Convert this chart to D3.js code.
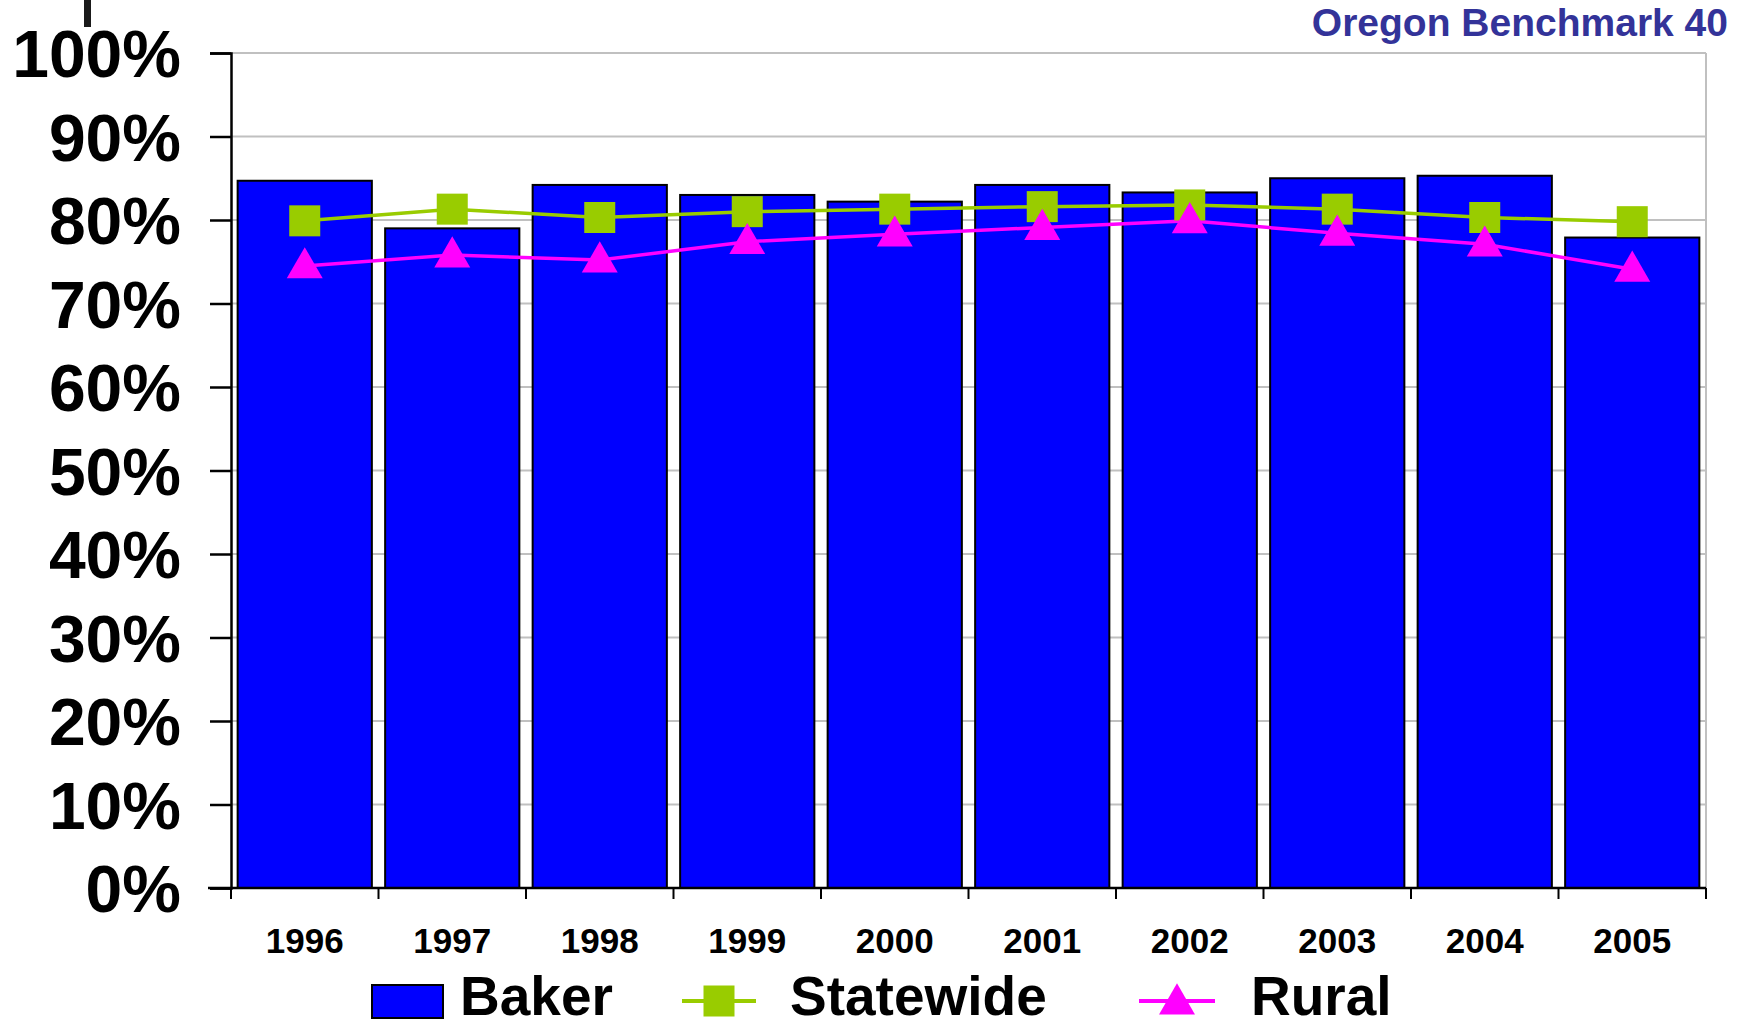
<!DOCTYPE html>
<html>
<head>
<meta charset="utf-8">
<script src="https://cdn.jsdelivr.net/npm/d3@7"></script>
<style>
  body { margin: 0; background: #fff; }
  svg text { font-family: "Liberation Sans", Arial, sans-serif; font-weight: bold; }
</style>
</head>
<body>
<svg id="chart" width="1748" height="1026"></svg>
<script>
var years = ["1996", "1997", "1998", "1999", "2000", "2001", "2002", "2003", "2004", "2005"];
var baker = [84.7, 79.0, 84.2, 83.0, 82.2, 84.2, 83.3, 85.0, 85.3, 77.9];
var statewide = [79.9, 81.3, 80.3, 81.0, 81.3, 81.6, 81.8, 81.3, 80.3, 79.8];
var rural = [74.5, 75.8, 75.2, 77.4, 78.3, 79.1, 79.9, 78.4, 77.1, 74.1];
var yTicks = [0, 10, 20, 30, 40, 50, 60, 70, 80, 90, 100];

var svg = d3.select("svg#chart");

var plotLeft = 231, plotRight = 1706, plotTop = 53, plotBottom = 888;

var x = d3.scaleBand()
  .domain(years)
  .range([plotLeft, plotRight])
  .paddingInner(0.09)
  .paddingOuter(0.045);

var y = d3.scaleLinear()
  .domain([0, 100])
  .range([plotBottom, plotTop]);

// gridlines
svg.selectAll("line.grid")
  .data(yTicks.slice(1))
  .enter().append("line")
  .attr("class", "grid")
  .attr("x1", plotLeft)
  .attr("x2", plotRight)
  .attr("y1", d => y(d))
  .attr("y2", d => y(d))
  .attr("stroke", "#c0c0c0")
  .attr("stroke-width", 2);

// right border
svg.append("line")
  .attr("x1", plotRight).attr("x2", plotRight)
  .attr("y1", plotTop).attr("y2", plotBottom)
  .attr("stroke", "#c0c0c0")
  .attr("stroke-width", 2);

// bars
svg.selectAll("rect.bar")
  .data(baker)
  .enter().append("rect")
  .attr("class", "bar")
  .attr("x", (d, i) => x(years[i]))
  .attr("y", d => y(d))
  .attr("width", x.bandwidth())
  .attr("height", d => plotBottom - y(d))
  .attr("fill", "#0000ff")
  .attr("stroke", "#000")
  .attr("stroke-width", 2);

// y axis
var yAxis = d3.axisLeft(y)
  .tickValues(yTicks)
  .tickSize(21)
  .tickPadding(29)
  .tickFormat(d => d + "%");

var gy = svg.append("g")
  .attr("transform", "translate(" + plotLeft + ",0)")
  .call(yAxis);
gy.select(".domain").attr("stroke", "#000").attr("stroke-width", 2.5);
gy.selectAll(".tick line").attr("stroke", "#000").attr("stroke-width", 2.5);
gy.selectAll(".tick text")
  .attr("font-size", 66)
  .attr("fill", "#000")
  .attr("dy", "0.36em");

// x axis (ticks at category boundaries)
svg.append("line")
  .attr("x1", 208).attr("x2", plotRight)
  .attr("y1", plotBottom).attr("y2", plotBottom)
  .attr("stroke", "#000")
  .attr("stroke-width", 2.5);

var bounds = d3.range(years.length + 1).map(i => plotLeft + i * (plotRight - plotLeft) / years.length);
svg.selectAll("line.xtick")
  .data(bounds)
  .enter().append("line")
  .attr("class", "xtick")
  .attr("x1", d => d).attr("x2", d => d)
  .attr("y1", plotBottom).attr("y2", plotBottom + 11)
  .attr("stroke", "#000")
  .attr("stroke-width", 2);

svg.selectAll("text.xlabel")
  .data(years)
  .enter().append("text")
  .attr("class", "xlabel")
  .attr("x", d => x(d) + x.bandwidth() / 2)
  .attr("y", 953)
  .attr("text-anchor", "middle")
  .attr("font-size", 35)
  .attr("fill", "#000")
  .text(d => d);

// lines
var cx = (d, i) => x(years[i]) + x.bandwidth() / 2;
var line = d3.line().x(cx).y(d => y(d));

svg.append("path")
  .datum(statewide)
  .attr("d", line)
  .attr("fill", "none")
  .attr("stroke", "#99cc00")
  .attr("stroke-width", 3.5);

svg.append("path")
  .datum(rural)
  .attr("d", line)
  .attr("fill", "none")
  .attr("stroke", "#ff00ff")
  .attr("stroke-width", 3.5);

var sq = 31;
svg.selectAll("rect.state")
  .data(statewide)
  .enter().append("rect")
  .attr("class", "state")
  .attr("x", (d, i) => cx(d, i) - sq / 2)
  .attr("y", d => y(d) - sq / 2)
  .attr("width", sq)
  .attr("height", sq)
  .attr("fill", "#99cc00");

var tri = d3.symbol().type(d3.symbolTriangle).size(560);
svg.selectAll("path.rural")
  .data(rural)
  .enter().append("path")
  .attr("class", "rural")
  .attr("transform", (d, i) => "translate(" + cx(d, i) + "," + (y(d) + 2) + ")")
  .attr("d", tri)
  .attr("fill", "#ff00ff");

// title
svg.append("text")
  .attr("x", 1728)
  .attr("y", 36)
  .attr("text-anchor", "end")
  .attr("font-size", 39)
  .attr("fill", "#333399")
  .text("Oregon Benchmark 40");

// clipped mark at top left
svg.append("rect")
  .attr("x", 84).attr("y", 0)
  .attr("width", 7).attr("height", 27)
  .attr("fill", "#1a1a1a");

// legend
var ly = 1001;
var lfont = 55, lbase = 1015;
svg.append("rect")
  .attr("x", 372).attr("y", 985)
  .attr("width", 71).attr("height", 33)
  .attr("fill", "#0000ff")
  .attr("stroke", "#000")
  .attr("stroke-width", 2);
svg.append("text")
  .attr("x", 460).attr("y", lbase)
  .attr("font-size", lfont)
  .text("Baker");

svg.append("line")
  .attr("x1", 682).attr("x2", 756)
  .attr("y1", ly).attr("y2", ly)
  .attr("stroke", "#99cc00")
  .attr("stroke-width", 4);
svg.append("rect")
  .attr("x", 719 - sq / 2).attr("y", ly - sq / 2)
  .attr("width", sq).attr("height", sq)
  .attr("fill", "#99cc00");
svg.append("text")
  .attr("x", 790).attr("y", lbase)
  .attr("font-size", lfont)
  .text("Statewide");

svg.append("line")
  .attr("x1", 1139).attr("x2", 1215)
  .attr("y1", ly).attr("y2", ly)
  .attr("stroke", "#ff00ff")
  .attr("stroke-width", 4);
svg.append("path")
  .attr("transform", "translate(1177," + (ly + 3) + ")")
  .attr("d", tri)
  .attr("fill", "#ff00ff");
svg.append("text")
  .attr("x", 1251).attr("y", lbase)
  .attr("font-size", lfont)
  .text("Rural");
</script>
</body>
</html>
